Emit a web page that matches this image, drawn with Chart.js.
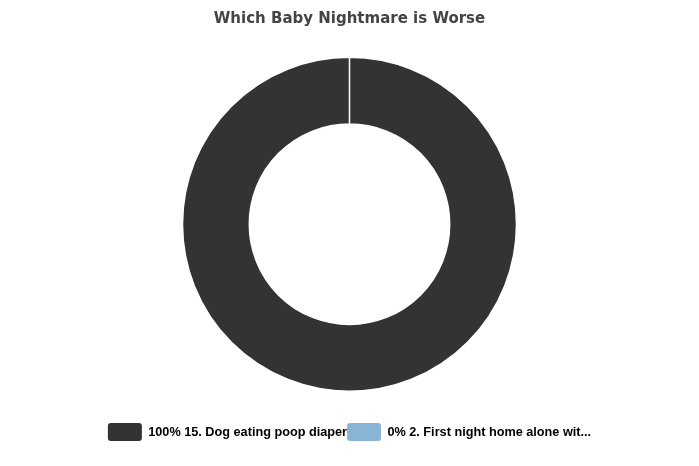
<!DOCTYPE html>
<html>
<head>
<meta charset="utf-8">
<title>Which Baby Nightmare is Worse</title>
<script src="https://cdn.jsdelivr.net/npm/chart.js@4/dist/chart.umd.min.js"></script>
<style>
  html, body { margin: 0; padding: 0; background: #fff; }
  #wrap { width: 699px; height: 466px; position: relative; }
</style>
</head>
<body>
<div id="wrap"><canvas id="chart"></canvas></div>
<script>
  // Poll results (sample as shown)
  var OPTIONS = ["15. Dog eating poop diaper", "2. First night home alone wit..."];
  var VOTES = [100, 0];
  var COLORS = ["#333333", "#88b5d6"];

  var total = VOTES.reduce(function (a, b) { return a + b; }, 0);

  new Chart(document.getElementById("chart"), {
    type: "doughnut",
    data: {
      labels: OPTIONS,
      datasets: [{
        data: VOTES,
        backgroundColor: COLORS,
        borderColor: "#ffffff",
        borderWidth: 1.5,
        radius: 167,
        cutout: "60%"
      }]
    },
    options: {
      responsive: true,
      maintainAspectRatio: false,
      animation: false,
      layout: { padding: { bottom: 15 } },
      plugins: {
        tooltip: { enabled: false },
        title: {
          display: true,
          text: "Which Baby Nightmare is Worse",
          color: "#444444",
          font: { family: "'DejaVu Sans', sans-serif", size: 15, weight: "bold", lineHeight: 0.9 },
          padding: { top: 12, bottom: 0 }
        },
        legend: {
          position: "bottom",
          labels: {
            boxWidth: 34,
            boxHeight: 18,
            padding: 0,
            useBorderRadius: true,
            borderRadius: 3,
            color: "#333333",
            font: { family: "'Liberation Sans', Arial, sans-serif", size: 12.7, weight: "bold" },
            generateLabels: function (chart) {
              return OPTIONS.map(function (name, i) {
                var pct = total ? Math.round(VOTES[i] / total * 100) : 0;
                return {
                  text: pct + "% " + name,
                  fillStyle: COLORS[i],
                  strokeStyle: COLORS[i],
                  lineWidth: 0,
                  hidden: false,
                  index: i,
                  borderRadius: 3
                };
              });
            }
          }
        }
      }
    }
  });
</script>
</body>
</html>
